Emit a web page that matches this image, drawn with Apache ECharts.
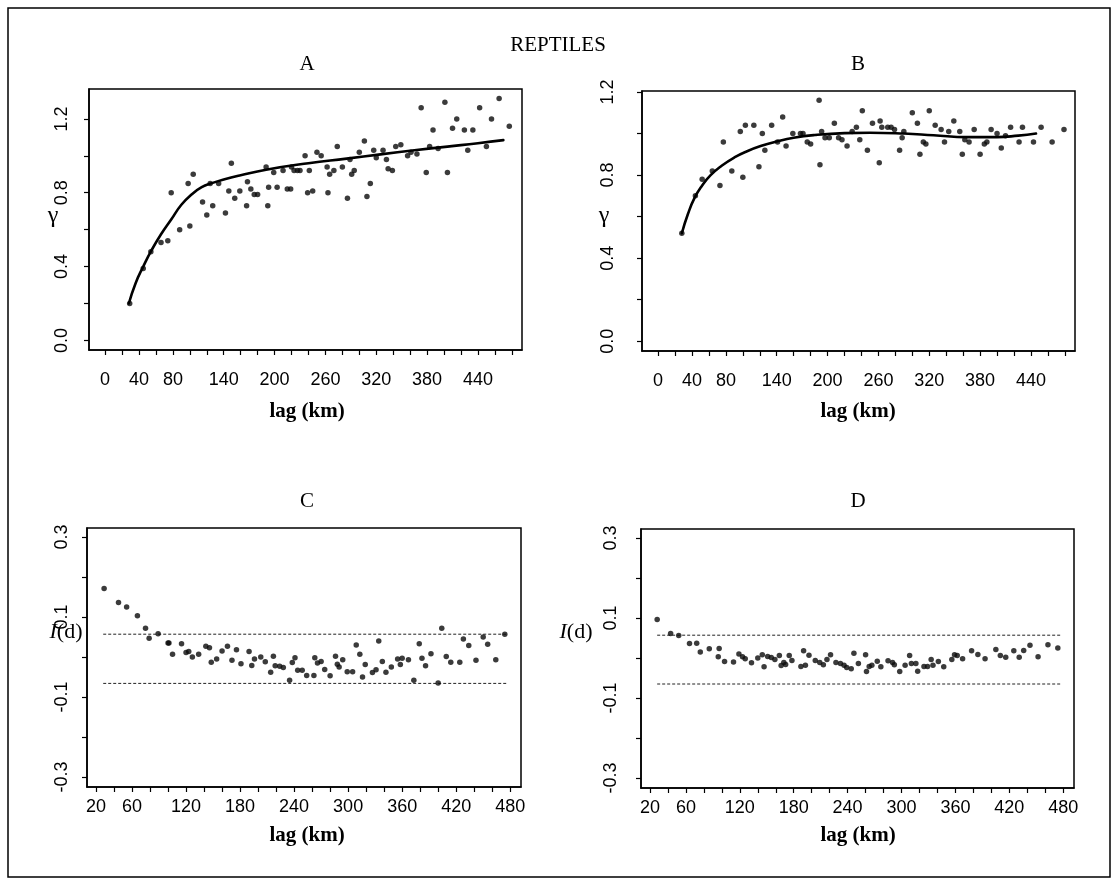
<!DOCTYPE html>
<html><head><meta charset="utf-8">
<script src="https://cdn.jsdelivr.net/npm/echarts@6/dist/echarts.min.js"></script>
<style>html,body{margin:0;padding:0;background:#fff}#c{width:1118px;height:885px}</style>
</head><body><div id="c"></div>
<script>
// ---------- Panel A: semivariogram ----------
const aLag   = [29,45,54,66,74,78,88,98,100,104,115,120,124,127,134,142,146,149,153,159,167,168,172,176,180,190,192,193,199,203,210,215,219,220,223,227,230,236,239,241,245,250,255,262,263,265,270,274,280,286,289,291,294,300,306,309,313,317,320,328,332,334,339,343,349,357,361,368,373,379,383,387,393,401,404,410,415,424,428,434,442,450,456,465,477];
const aGamma = [0.20,0.39,0.48,0.53,0.54,0.80,0.60,0.85,0.62,0.90,0.75,0.68,0.85,0.73,0.85,0.69,0.81,0.96,0.77,0.81,0.73,0.86,0.82,0.79,0.79,0.94,0.73,0.83,0.91,0.83,0.92,0.82,0.82,0.94,0.92,0.92,0.92,1.00,0.80,0.92,0.81,1.02,1.00,0.94,0.80,0.90,0.92,1.05,0.94,0.77,0.98,0.90,0.92,1.02,1.08,0.78,0.85,1.03,0.99,1.03,0.98,0.93,0.92,1.05,1.06,1.00,1.02,1.01,1.26,0.91,1.05,1.14,1.04,1.29,0.91,1.15,1.20,1.14,1.03,1.14,1.26,1.05,1.20,1.31,1.16];
const aFitLag   = [28,36,45,55,66,78,90,102,114,126,140,160,190,240,285,325,365,404,440,470];
const aFitGamma = [0.20,0.31,0.40,0.49,0.575,0.655,0.735,0.79,0.83,0.852,0.872,0.895,0.925,0.960,0.985,1.008,1.030,1.050,1.068,1.085];

// ---------- Panel B: semivariogram ----------
const bLag   = [28,44,52,64,73,77,87,97,100,103,113,119,123,126,134,141,147,151,159,168,171,176,180,190,191,193,197,202,208,213,217,223,229,234,238,241,247,253,261,262,264,271,275,279,285,288,290,300,306,309,313,316,320,327,334,338,343,349,356,359,362,367,373,380,385,388,393,400,405,410,416,426,430,443,452,465,479];
const bGamma = [0.52,0.70,0.78,0.82,0.75,0.96,0.82,1.01,0.79,1.04,1.04,0.84,1.00,0.92,1.04,0.96,1.08,0.94,1.00,1.00,1.00,0.96,0.95,1.16,0.85,1.01,0.98,0.98,1.05,0.98,0.97,0.94,1.01,1.03,0.97,1.11,0.92,1.05,0.86,1.06,1.03,1.03,1.03,1.02,0.92,0.98,1.01,1.10,1.05,0.90,0.96,0.95,1.11,1.04,1.02,0.96,1.01,1.06,1.01,0.90,0.97,0.96,1.02,0.90,0.95,0.96,1.02,1.00,0.93,0.99,1.03,0.96,1.03,0.96,1.03,0.96,1.02];
const bFitLag   = [28,35,43,52,62,75,90,105,121,140,160,185,220,250,290,325,365,400,425,446];
const bFitGamma = [0.52,0.61,0.69,0.75,0.80,0.845,0.885,0.915,0.94,0.962,0.98,0.993,1.002,1.004,1.0,0.992,0.983,0.983,0.99,1.0];

// ---------- Panel C: Moran's I correlogram ----------
const cLag = [29,45,54,66,75,79,89,100,101,105,115,120,123,127,134,142,146,148,154,160,166,171,176,181,190,193,196,203,208,214,217,219,224,228,235,238,241,244,249,254,262,263,266,270,274,280,286,288,290,294,299,305,309,313,316,319,327,331,334,338,342,348,355,358,360,367,373,379,382,386,392,400,404,409,414,424,428,434,442,450,455,464,474];
const cI   = [0.171,0.136,0.125,0.103,0.072,0.047,0.058,0.035,0.035,0.007,0.033,0.011,0.014,0.000,0.007,0.027,0.023,-0.013,-0.005,0.015,0.027,-0.008,0.018,-0.017,0.014,-0.021,-0.005,0.000,-0.012,-0.038,0.002,-0.022,-0.023,-0.026,-0.058,-0.014,-0.002,-0.033,-0.033,-0.046,-0.046,-0.002,-0.015,-0.011,-0.031,-0.047,0.002,-0.018,-0.025,-0.007,-0.037,-0.037,0.030,0.007,-0.050,-0.019,-0.039,-0.032,0.040,-0.011,-0.038,-0.025,-0.005,-0.019,-0.003,-0.007,-0.058,0.033,-0.003,-0.022,0.008,-0.065,0.072,0.001,-0.013,-0.013,0.045,0.029,-0.008,0.050,0.032,-0.007,0.057];
const cLimitLag = [28, 477];
const cUpper = 0.057, cLower = -0.066;

// ---------- Panel D: Moran's I correlogram ----------
const dLag = [28,43,52,64,72,76,86,97,96,103,113,119,123,126,133,140,145,147,151,155,159,164,166,169,171,175,178,188,191,193,197,204,209,213,217,221,227,232,236,239,244,247,252,260,261,264,267,273,277,285,290,292,298,304,309,311,316,318,325,329,333,335,341,347,356,359,362,368,378,385,393,405,410,416,425,431,436,443,452,463,474];
const dI   = [0.096,0.061,0.056,0.036,0.037,0.015,0.023,0.024,0.003,-0.009,-0.010,0.010,0.003,-0.002,-0.012,0.000,0.008,-0.022,0.004,0.001,-0.004,0.006,-0.019,-0.011,-0.016,0.006,-0.006,-0.021,0.018,-0.018,0.007,-0.006,-0.011,-0.017,-0.004,0.008,-0.011,-0.014,-0.018,-0.024,-0.027,0.012,-0.014,0.008,-0.034,-0.021,-0.018,-0.008,-0.022,-0.007,-0.011,-0.017,-0.034,-0.018,0.006,-0.014,-0.014,-0.033,-0.021,-0.021,-0.004,-0.018,-0.009,-0.022,-0.004,0.008,0.006,-0.002,0.018,0.009,-0.002,0.021,0.006,0.002,0.018,0.002,0.019,0.032,0.003,0.033,0.025];
const dLimitLag = [28, 477];
const dUpper = 0.057, dLower = -0.065;

// ---------- Tick labels ----------
const topXLabels    = [0,40,80,140,200,260,320,380,440];
const bottomXLabels = [20,60,120,180,240,300,360,420,480];
const gammaYLabels  = [0.0,0.4,0.8,1.2];
const moranYLabels  = [-0.3,-0.1,0.1,0.3];

const zip = (xs, ys) => xs.map((x, i) => [x, ys[i]]);
const range = (a, b, s) => { const r = []; for (let v = a; v <= b + 1e-9; v += s) r.push(+v.toFixed(4)); return r; };

const sans = 'Liberation Sans, Arial, sans-serif';
const serif = 'Liberation Serif, Times New Roman, serif';

function xAxis(gi, min, max, ticks, labels, margin) {
  return {
    type: 'value', gridIndex: gi, min, max,
    axisLine: { show: true, onZero: false, lineStyle: { color: '#000', width: 1.5 } },
    axisTick: { show: true, length: 5, lineStyle: { color: '#000', width: 1.2 }, customValues: ticks },
    axisLabel: { show: true, customValues: labels, margin, fontFamily: sans, fontSize: 18, color: '#000',
                 formatter: v => String(Math.round(v)) },
    splitLine: { show: false }
  };
}
function yAxis(gi, min, max, ticks, labels, margin) {
  return {
    type: 'value', gridIndex: gi, min, max,
    axisLine: { show: true, onZero: false, lineStyle: { color: '#000', width: 1.5 } },
    axisTick: { show: true, length: 5, lineStyle: { color: '#000', width: 1.2 }, customValues: ticks },
    axisLabel: { show: true, customValues: labels, rotate: 90, margin, fontFamily: sans, fontSize: 18, color: '#000',
                 formatter: v => v.toFixed(1) },
    splitLine: { show: false }
  };
}

const grids = [
  { left: 89,  top: 89,  width: 433, height: 261 },
  { left: 642, top: 91,  width: 433, height: 260 },
  { left: 87,  top: 528, width: 434, height: 259 },
  { left: 641, top: 529, width: 433, height: 259 }
].map(g => Object.assign(g, { show: true, borderColor: '#000', borderWidth: 1.5, backgroundColor: 'transparent' }));

function pts(gi, data) {
  return { type: 'scatter', xAxisIndex: gi, yAxisIndex: gi, data, symbol: 'circle', symbolSize: 5.5,
           itemStyle: { color: '#0a0a0a' }, silent: true, z: 3 };
}
function fit(gi, data) {
  return { type: 'line', xAxisIndex: gi, yAxisIndex: gi, data, smooth: 0.5, showSymbol: false,
           lineStyle: { color: '#000', width: 2.6, join: 'round', cap: 'round' }, silent: true, z: 4 };
}
function dash(gi, xs, y) {
  return { type: 'line', xAxisIndex: gi, yAxisIndex: gi, data: xs.map(x => [x, y]), showSymbol: false,
           lineStyle: { color: '#222', width: 1, type: [3, 2] }, silent: true, z: 2 };
}

const text = (x, y, t, size, extra) => ({ type: 'text', x, y,
  style: Object.assign({ text: t, fontFamily: serif, fontSize: size, fill: '#000', align: 'center', verticalAlign: 'middle' }, extra || {}) });
const idLabel = (x, y) => ({ type: 'text', x, y, style: { text: '{i|I}{n|(d)}', align: 'center', verticalAlign: 'middle',
  rich: { i: { fontFamily: serif, fontStyle: 'italic', fontSize: 22, fill: '#000' }, n: { fontFamily: serif, fontSize: 22, fill: '#000' } } } });

const option = {
  animation: false,
  backgroundColor: '#fff',
  grid: grids,
  xAxis: [
    xAxis(0, -19, 492, range(0, 480, 20), topXLabels, 21),
    xAxis(1, -19, 492, range(0, 480, 20), topXLabels, 21),
    xAxis(2, 10, 492, range(20, 480, 20), bottomXLabels, 11),
    xAxis(3, 10, 492, range(20, 480, 20), bottomXLabels, 11)
  ],
  yAxis: [
    yAxis(0, -0.052, 1.362, range(0, 1.2, 0.2), gammaYLabels, 18),
    yAxis(1, -0.047, 1.205, range(0, 1.2, 0.2), gammaYLabels, 25),
    yAxis(2, -0.325, 0.3225, range(-0.3, 0.3, 0.1), moranYLabels, 16),
    yAxis(3, -0.325, 0.3225, range(-0.3, 0.3, 0.1), moranYLabels, 21)
  ],
  series: [
    pts(0, zip(aLag, aGamma)), fit(0, zip(aFitLag, aFitGamma)),
    pts(1, zip(bLag, bGamma)), fit(1, zip(bFitLag, bFitGamma)),
    dash(2, cLimitLag, cUpper), dash(2, cLimitLag, cLower), pts(2, zip(cLag, cI)),
    dash(3, dLimitLag, dUpper), dash(3, dLimitLag, dLower), pts(3, zip(dLag, dI))
  ],
  graphic: [
    { type: 'rect', shape: { x: 8, y: 8, width: 1102, height: 869 }, style: { fill: 'none', stroke: '#000', lineWidth: 1.5 }, silent: true },
    text(558, 45, 'REPTILES', 21),
    text(307, 64, 'A', 21), text(858, 64, 'B', 21),
    text(307, 501, 'C', 21), text(858, 501, 'D', 21),
    text(307, 412, 'lag (km)', 21, { fontWeight: 'bold' }), text(858, 412, 'lag (km)', 21, { fontWeight: 'bold' }),
    text(307, 836, 'lag (km)', 21, { fontWeight: 'bold' }), text(858, 836, 'lag (km)', 21, { fontWeight: 'bold' }),
    text(53, 216, 'γ', 24), text(604, 216, 'γ', 24),
    idLabel(66, 632), idLabel(576, 632)
  ]
};
echarts.init(document.getElementById('c'), null, { renderer: 'canvas' }).setOption(option);
</script></body></html>
